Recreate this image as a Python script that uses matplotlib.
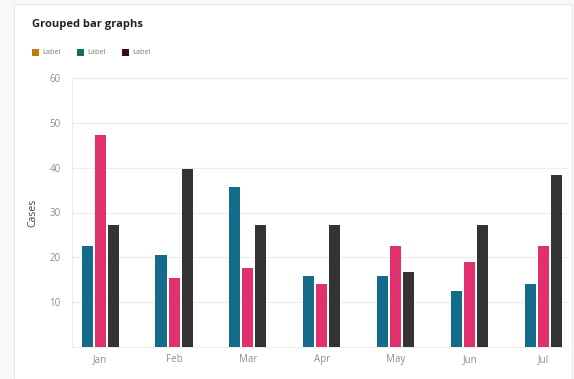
import numpy as np
import matplotlib.pyplot as plt
from matplotlib.patches import Rectangle

plt.rcParams["font.family"] = ["Open Sans", "DejaVu Sans"]

months = ["Jan", "Feb", "Mar", "Apr", "May", "Jun", "Jul"]
teal_vals = [22.5, 20.6, 35.6, 15.8, 15.8, 12.5, 14.0]
pink_vals = [47.2, 15.3, 17.6, 14.0, 22.6, 19.0, 22.6]
dark_vals = [27.2, 39.8, 27.2, 27.2, 16.7, 27.2, 38.3]

legend_labels = ["Label", "Label", "Label"]
legend_colors = ["#c27c0e", "#0f7066", "#3d0a0f"]
bar_colors = ["#156b8a", "#e0306e", "#333333"]

fig = plt.figure(figsize=(5.74, 3.79), dpi=100)
fig.patch.set_facecolor("#f8f8f8")

# white card behind everything
card = Rectangle((14 / 574, 0), (572 - 14) / 574, 1 - 4 / 379,
                 transform=fig.transFigure, facecolor="white",
                 edgecolor="#e8e8e8", linewidth=0.8, zorder=-10)
fig.patches.append(card)

ax = fig.add_axes([72 / 574, 1 - 347 / 379, (568 - 72) / 574, (347 - 78) / 379])
ax.set_facecolor("white")

x = np.arange(len(months))
w = 0.149
step = 0.176
for i, vals in enumerate([teal_vals, pink_vals, dark_vals]):
    ax.bar(x + (i - 1) * step, vals, width=w, color=bar_colors[i], zorder=3)

ax.set_ylim(0, 60)
ax.set_xlim(-0.38, 6.33)
ax.set_yticks([10, 20, 30, 40, 50, 60])
ax.set_xticks(x)
ax.set_xticklabels(months)
ax.grid(axis="y", color="#ececec", linewidth=0.8, zorder=0)
ax.tick_params(axis="both", length=0, labelsize=7, labelcolor="#8e8e8e")
ax.tick_params(axis="y", pad=8)
ax.tick_params(axis="x", pad=5)
for side in ["top", "right"]:
    ax.spines[side].set_visible(False)
for side in ["left", "bottom"]:
    ax.spines[side].set_color("#eeeeee")
    ax.spines[side].set_linewidth(0.8)

ax.set_ylabel("Cases", fontsize=7.5, color="#444444", labelpad=8)

fig.text(32 / 574, 1 - 25 / 379, "Grouped bar graphs", fontsize=8,
         fontweight="bold", color="#222222", va="center", ha="left")

# legend squares with labels
for i, (lbl, col) in enumerate(zip(legend_labels, legend_colors)):
    x0 = 32 + i * 45
    fig.patches.append(Rectangle((x0 / 574, 1 - 56 / 379), 7 / 574, 7 / 379,
                                 transform=fig.transFigure, facecolor=col,
                                 edgecolor="none", zorder=5))
    fig.text((x0 + 10) / 574, 1 - 52.5 / 379, lbl, fontsize=5.3,
             color="#7a7a7a", va="center", ha="left")

fig.savefig("out.png", dpi=100)
